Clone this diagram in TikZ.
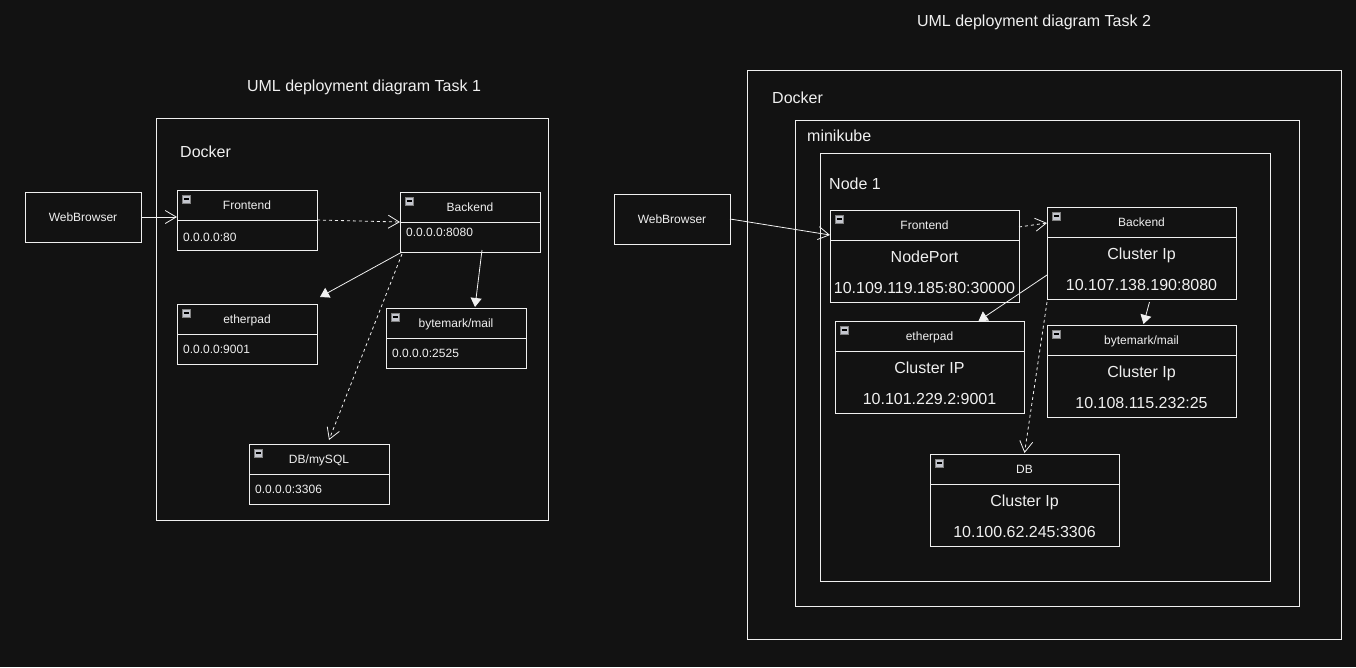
\documentclass[tikz,border=0pt]{standalone}
\usepackage{fontspec}
\setmainfont{Liberation Sans}
\usetikzlibrary{arrows.meta, positioning, calc}

\definecolor{bg}{HTML}{121212}
\definecolor{fg}{HTML}{F0F0F0}
\definecolor{icon}{HTML}{C4C6CE}

\tikzset{
  frame/.style={draw=fg, line width=1pt},
  comp/.style={draw=fg, line width=1pt, anchor=north west, inner sep=0pt, outer sep=0pt},
  small/.style={text=fg, font=\fontsize{12}{14}\selectfont, inner sep=0pt},
  big/.style={text=fg, font=\fontsize{16}{19}\selectfont, inner sep=0pt},
  uses/.style={draw=fg, line width=0.8pt, -{Straight Barb[length=11pt,width=13pt]}},
  calls/.style={uses, dash pattern=on 3pt off 3pt},
  link/.style={draw=fg, line width=0.8pt, -{Triangle[length=9pt,width=11pt]}},
}

\newcommand{\minusicon}[1]{%
  \draw[fill=icon, draw=gray, line width=0.6pt] ($(#1.north west)+(5,5)$) rectangle ++(8,8);
  \draw[black, line width=1.2pt] ($(#1.north west)+(6.5,9)$) -- ++(5,0);}

\begin{document}
\begin{tikzpicture}[x=1pt, y=-1pt]
  \fill[bg] (0,0) rectangle (1356,667);
  \useasboundingbox (0,0) rectangle (1356,667);

  % Task 1
  \node[big, anchor=base] (title1) at (364,91) {UML deployment diagram Task 1};
  \draw[frame] (156,118) rectangle (548,520);
  \node[big, anchor=base west] (docker1) at (180,157) {Docker};
  \node[comp, minimum width=116pt, minimum height=50pt, small] (wb1) at (25,192) {WebBrowser};

  \foreach \nm/\x/\y/\dy/\ttl/\ip in {fe1/177/190/51/Frontend/0.0.0.0:80,
      be1/400/192/44/Backend/0.0.0.0:8080, ep1/177/304/49/etherpad/0.0.0.0:9001,
      bm1/386/308/49/{bytemark/mail}/0.0.0.0:2525, db1/249/444/49/{DB/mySQL}/0.0.0.0:3306}{
    \node[comp, minimum width=140pt, minimum height=60pt] (\nm) at (\x,\y) {};
    \draw[frame] ($(\nm.north west)+(0,30)$) -- ($(\nm.north east)+(0,30)$);
    \node[small, anchor=base] at ($(\nm.north)+(0,19)$) {\ttl};
    \node[small, anchor=base west] at ($(\nm.north west)+(6,\dy)$) {\ip};
    \minusicon{\nm}
  }

  \draw[uses] (wb1.east) -- (wb1.east -| fe1.west);
  \draw[calls] (fe1.east) -- (be1.west);
  \draw[link] ($(be1.south west)+(2,0)$) -- ($(ep1.north east)+(3,-7)$);
  \draw[link] ($(be1.south)+(12,-2)$) -- ($(bm1.north)+(19,-1)$);
  \draw[calls] ($(be1.south west)+(2,2)$) -- ($(db1.north)+(10,-4)$);

  % Task 2
  \node[big, anchor=base] (title2) at (1034,26) {UML deployment diagram Task 2};
  \draw[frame] (747,70) rectangle (1341,639);
  \node[big, anchor=base west] (docker2) at (772,103) {Docker};
  \draw[frame] (795,120) rectangle (1299,606);
  \node[big, anchor=base west] (minikube) at (807,141) {minikube};
  \draw[frame] (820,153) rectangle (1270,581);
  \node[big, anchor=base west] (node1) at (829,189) {Node 1};
  \node[comp, minimum width=116pt, minimum height=50pt, small] (wb2) at (614,194) {WebBrowser};

  \foreach \nm/\x/\y/\ttl/\kind/\ip in {fe2/830/210/Frontend/NodePort/10.109.119.185:80:30000,
      be2/1047/207/Backend/Cluster Ip/10.107.138.190:8080,
      ep2/835/321/etherpad/Cluster IP/10.101.229.2:9001,
      bm2/1047/325/{bytemark/mail}/Cluster Ip/10.108.115.232:25,
      db2/930/454/DB/Cluster Ip/10.100.62.245:3306}{
    \node[comp, minimum width=189pt, minimum height=92pt] (\nm) at (\x,\y) {};
    \draw[frame] ($(\nm.north west)+(0,30)$) -- ($(\nm.north east)+(0,30)$);
    \node[small, anchor=base] at ($(\nm.north)+(0,19)$) {\ttl};
    \node[big, anchor=base] at ($(\nm.north)+(0,52)$) {\kind};
    \node[big, anchor=base] at ($(\nm.north)+(0,83)$) {\ip};
    \minusicon{\nm}
  }

  \draw[uses] (wb2.east) -- ($(fe2.north west)+(0,25)$);
  \draw[calls] ($(fe2.north east)+(0,17)$) -- ($(be2.north west)+(0,16)$);
  \draw[link] ($(be2.north west)+(0,68)$) -- ($(ep2.north)+(49,0)$);
  \draw[link] ($(be2.south)+(8,3)$) -- ($(bm2.north)+(2,-1)$);
  \draw[calls] ($(be2.south west)+(0,3)$) -- ($(db2.north)+(0,-1)$);
\end{tikzpicture}
\end{document}
